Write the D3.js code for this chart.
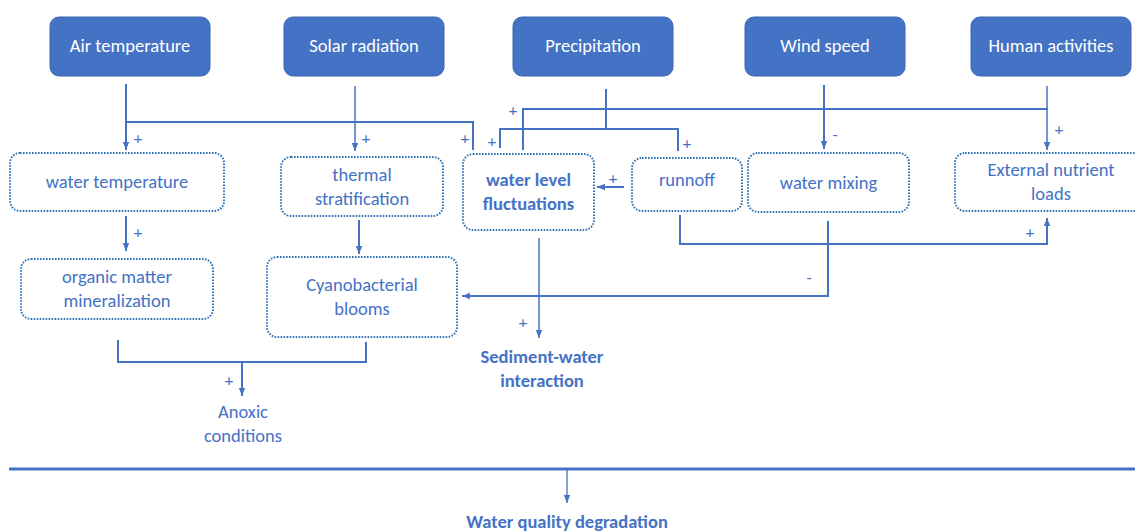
<!DOCTYPE html>
<html>
<head>
<meta charset="utf-8">
<script src="https://cdn.jsdelivr.net/npm/d3@7"></script>
<style>
  body { margin: 0; background: #fff; }
  text { font-family: Carlito, Lato, "Open Sans", sans-serif; }
</style>
</head>
<body>
<script>
var width = 1135;
var height = 532;
var blue = "#4472C4";
var dotBlue = "#2E75B6";

// driver boxes (top row)
var drivers = ["Air temperature", "Solar radiation", "Precipitation", "Wind speed", "Human activities"];
var driverLeft = [50, 284, 513, 745, 971];

// process boxes (dotted)
var processes = [
  ["water temperature"],
  ["thermal", "stratification"],
  ["water level", "fluctuations"],
  ["runnoff"],
  ["water mixing"],
  ["External nutrient", "loads"],
  ["organic matter", "mineralization"],
  ["Cyanobacterial", "blooms"]
];
var processBold = [false, false, true, false, false, false, false, false];
// x, y, w, h
var processBox = [
  [10, 153, 214, 58],
  [281, 157, 162, 59],
  [463, 154, 131, 76],
  [632, 158, 110, 53],
  [748, 153, 161, 59],
  [955, 153, 192, 58],
  [21, 259, 192, 60],
  [267, 257, 190, 80]
];
// small vertical nudges of the text inside boxes
var processDy = [0, 0, 0, -5, 0, 0, 0, 0];

// outcomes (plain text)
var outcomes = [["Anoxic", "conditions"], ["Sediment-water", "interaction"], ["Water quality degradation"]];
var outcomeBold = [false, true, true];
var outcomePos = [[243, 412], [542, 357], [567, 522]];

// connectors
var links = [
  {pts: [[126, 84], [126, 150]], arrow: true, w: 2},
  {pts: [[127, 122], [473, 122], [473, 150]], arrow: false, w: 2},
  {pts: [[355, 86], [355, 151]], arrow: true, w: 1.5},
  {pts: [[126, 216], [126, 251]], arrow: true, w: 2},
  {pts: [[359, 220], [359, 254]], arrow: true, w: 2},
  {pts: [[606, 89], [606, 129]], arrow: false, w: 2},
  {pts: [[500, 148], [500, 129], [678, 129], [678, 151]], arrow: false, w: 2},
  {pts: [[523, 150], [523, 109], [1048, 109]], arrow: false, w: 2},
  {pts: [[1047, 86], [1047, 150]], arrow: true, w: 1.5},
  {pts: [[824, 85], [824, 149]], arrow: true, w: 2},
  {pts: [[624, 187], [597, 187]], arrow: true, w: 2},
  {pts: [[680, 215], [680, 244], [1047, 244], [1047, 218]], arrow: true, w: 2},
  {pts: [[828, 221], [828, 296], [462, 296]], arrow: true, w: 2},
  {pts: [[539, 238], [539, 338]], arrow: true, w: 1.5},
  {pts: [[118, 340], [118, 362], [366, 362], [366, 342]], arrow: false, w: 2},
  {pts: [[242, 362], [242, 396]], arrow: true, w: 2},
  {pts: [[9, 469], [1135, 469]], arrow: false, w: 3},
  {pts: [[567, 469], [567, 503]], arrow: true, w: 1.3}
];

// signs on the connectors
var signs = ["+", "+", "+", "+", "+", "+", "+", "+", "-", "+", "+", "-", "+", "+"];
var signPos = [
  [138, 138], [366, 138], [465, 138], [492, 141], [513, 110], [687, 143],
  [613, 178], [1059, 129], [835, 134], [1030, 232], [138, 232], [809, 277],
  [523, 322], [229, 380]
];

var svg = d3.select("body").append("svg")
    .attr("width", width)
    .attr("height", height);

svg.append("defs").append("marker")
    .attr("id", "arr")
    .attr("viewBox", "0 0 10 10")
    .attr("refX", 10)
    .attr("refY", 5)
    .attr("markerUnits", "userSpaceOnUse")
    .attr("markerWidth", 8)
    .attr("markerHeight", 8)
    .attr("orient", "auto")
  .append("path")
    .attr("d", "M0,1 L10,5 L0,9 Z")
    .attr("fill", blue);

var line = d3.line();

svg.selectAll("path.link")
    .data(links)
  .enter().append("path")
    .attr("class", "link")
    .attr("d", function(d) { return line(d.pts); })
    .attr("fill", "none")
    .attr("stroke", blue)
    .attr("stroke-width", function(d) { return d.w; })
    .attr("marker-end", function(d) { return d.arrow ? "url(#arr)" : null; });

// driver boxes
var dg = svg.selectAll("g.driver")
    .data(drivers)
  .enter().append("g")
    .attr("class", "driver")
    .attr("transform", function(d, i) { return "translate(" + driverLeft[i] + ",17)"; });

dg.append("rect")
    .attr("width", 160)
    .attr("height", 59)
    .attr("rx", 9)
    .attr("fill", blue)
    .attr("stroke", "#3A64AE")
    .attr("stroke-width", 1);

dg.append("text")
    .attr("x", 80)
    .attr("y", 35)
    .attr("text-anchor", "middle")
    .attr("fill", "#fff")
    .style("font-size", "18.5px")
    .text(function(d) { return d; });

// process boxes
var pg = svg.selectAll("g.proc")
    .data(processes)
  .enter().append("g")
    .attr("class", "proc")
    .attr("transform", function(d, i) { return "translate(" + processBox[i][0] + "," + processBox[i][1] + ")"; });

pg.append("rect")
    .attr("width", function(d, i) { return processBox[i][2]; })
    .attr("height", function(d, i) { return processBox[i][3]; })
    .attr("rx", 10)
    .attr("fill", "#fff")
    .attr("stroke", dotBlue)
    .attr("stroke-width", 2)
    .attr("stroke-dasharray", "1.6 1.4");

pg.each(function(d, i) {
  var g = d3.select(this);
  var b = processBox[i];
  var n = d.length;
  d.forEach(function(t, k) {
    g.append("text")
        .attr("x", b[2] / 2)
        .attr("y", b[3] / 2 + (k - (n - 1) / 2) * 24 + 6 + processDy[i])
        .attr("text-anchor", "middle")
        .attr("fill", blue)
        .style("font-size", "18.5px")
        .style("font-weight", processBold[i] ? "bold" : "normal")
        .text(t);
  });
});

// outcome labels
outcomes.forEach(function(lines, i) {
  lines.forEach(function(t, k) {
    svg.append("text")
        .attr("x", outcomePos[i][0])
        .attr("y", outcomePos[i][1] + k * 24 + 6)
        .attr("text-anchor", "middle")
        .attr("fill", blue)
        .style("font-size", "18.5px")
        .style("font-weight", outcomeBold[i] ? "bold" : "normal")
        .text(t);
  });
});

// signs
svg.selectAll("text.sign")
    .data(signs)
  .enter().append("text")
    .attr("class", "sign")
    .attr("x", function(d, i) { return signPos[i][0]; })
    .attr("y", function(d, i) { return signPos[i][1] + 6; })
    .attr("text-anchor", "middle")
    .attr("fill", blue)
    .style("font-size", "17px")
    .text(function(d) { return d; });
</script>
</body>
</html>
